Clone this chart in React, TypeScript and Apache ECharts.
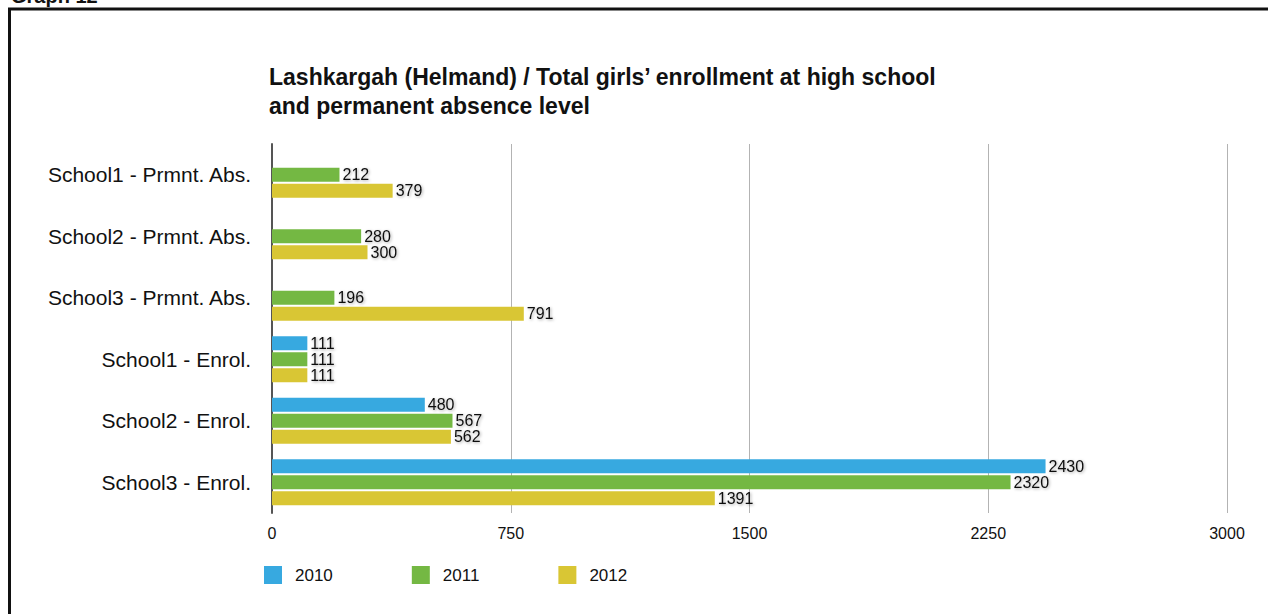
import React, { useEffect, useRef } from "react";
import * as echarts from "echarts";

const categories = [
  "School1 - Prmnt. Abs.",
  "School2 - Prmnt. Abs.",
  "School3 - Prmnt. Abs.",
  "School1 - Enrol.",
  "School2 - Enrol.",
  "School3 - Enrol.",
];
const seriesNames = ["2010", "2011", "2012"];
const values2010 = [null, null, null, 111, 480, 2430];
const values2011 = [212, 280, 196, 111, 567, 2320];
const values2012 = [379, 300, 791, 111, 562, 1391];
const colors = ["#37A9E0", "#74B843", "#D9C634"];
const xTicks = { min: 0, max: 3000, interval: 750 };

const FONT = "'Liberation Sans', Arial, Helvetica, sans-serif";

export default function App() {
  const ref = useRef<HTMLDivElement>(null);
  useEffect(() => {
    if (!ref.current) return;
    const chart = echarts.init(ref.current, null, { renderer: "svg" });
    const data = [values2010, values2011, values2012];
    chart.setOption({
      animation: false,
      backgroundColor: "#ffffff",
      textStyle: { fontFamily: FONT },
      grid: { left: 272, right: 41, top: 144, bottom: 101, containLabel: false },
      legend: {
        left: 264,
        top: 566,
        padding: 0,
        itemWidth: 18,
        itemHeight: 18,
        itemGap: 79,
        icon: "rect",
        textStyle: { fontSize: 17, color: "#111", fontFamily: FONT, padding: [0, 0, 0, 8] },
        data: seriesNames,
      },
      xAxis: {
        type: "value",
        min: xTicks.min,
        max: xTicks.max,
        interval: xTicks.interval,
        axisLine: { show: false },
        axisTick: { show: false },
        axisLabel: {
          fontSize: 16,
          color: "#111",
          margin: 12,
          fontFamily: FONT,
          formatter: (v: number) => String(v),
        },
        splitLine: { show: true, lineStyle: { color: "#b3b3b3", width: 1 } },
      },
      yAxis: {
        type: "category",
        inverse: true,
        data: categories,
        axisLine: { show: true, lineStyle: { color: "#555", width: 2 } },
        axisTick: { show: false },
        axisLabel: { fontSize: 21, color: "#111", margin: 21, fontFamily: FONT },
        splitLine: { show: false },
      },
      series: seriesNames.map((name, i) => ({
        name,
        type: "bar",
        data: data[i],
        barWidth: 14,
        barGap: "14%",
        itemStyle: { color: colors[i] },
        label: {
          show: true,
          position: "right",
          distance: 3,
          fontSize: 16,
          color: "#111",
          fontFamily: FONT,
          textShadowColor: "rgba(0,0,0,0.35)",
          textShadowBlur: 3,
          textShadowOffsetX: 1,
          textShadowOffsetY: 1,
        },
      })),
      graphic: [
        {
          type: "rect",
          shape: { x: 9.5, y: 9, width: 1400, height: 800 },
          style: { fill: "none", stroke: "#111", lineWidth: 3 },
          silent: true,
        },
        {
          type: "text",
          x: 11,
          y: 6,
          style: {
            text: "Graph 12",
            font: `bold 20px ${FONT}`,
            fill: "#111",
            verticalAlign: "bottom",
          },
        },
        {
          type: "text",
          x: 269,
          y: 77,
          style: {
            text: "Lashkargah (Helmand) / Total girls’ enrollment at high school",
            font: `bold 23px ${FONT}`,
            fill: "#111",
            verticalAlign: "middle",
          },
        },
        {
          type: "text",
          x: 269,
          y: 106,
          style: {
            text: "and permanent absence level",
            font: `bold 23px ${FONT}`,
            fill: "#111",
            verticalAlign: "middle",
          },
        },
      ],
    });
    return () => chart.dispose();
  }, []);
  return (
    <div
      ref={ref}
      style={{ position: "absolute", left: 0, top: 0, width: 1268, height: 614 }}
    />
  );
}
